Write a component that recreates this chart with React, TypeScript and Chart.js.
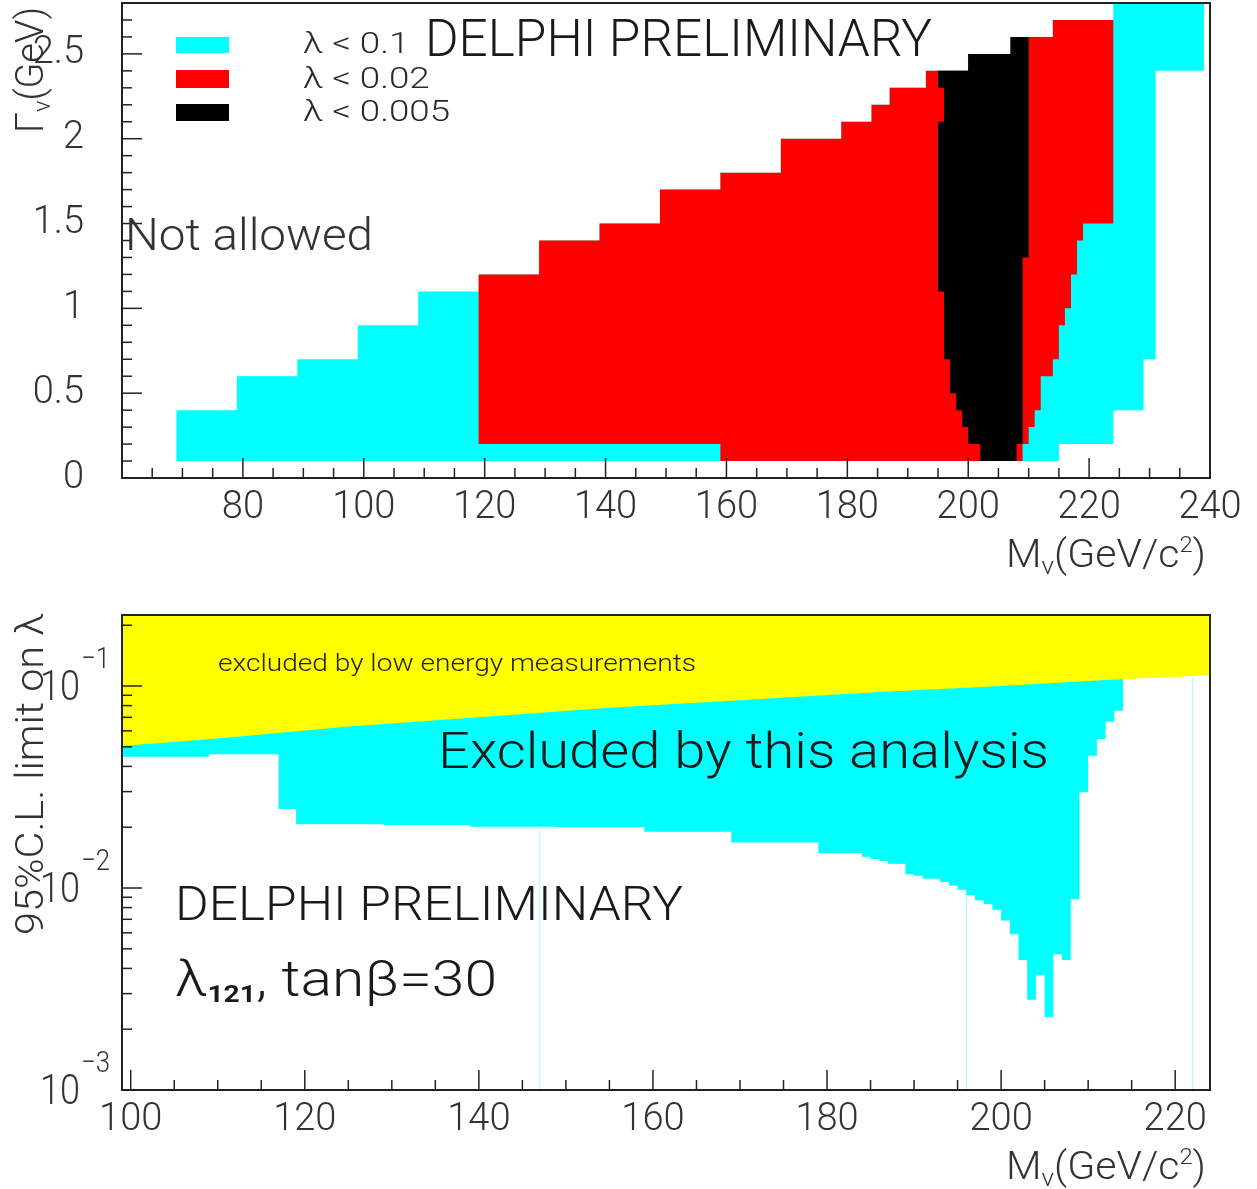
import React, { useEffect, useRef } from "react";
import { Chart, registerables } from "chart.js";

Chart.register(...registerables);

// ---------------- top chart: width vs mass, rows of 0.1 GeV ----------------
const ROW_BOTTOMS = [0.1, 0.2, 0.3, 0.4, 0.5, 0.6, 0.7, 0.8, 0.9, 1.0, 1.1, 1.2, 1.3, 1.4, 1.5, 1.6, 1.7, 1.8, 1.9, 2.0, 2.1, 2.2, 2.3, 2.4, 2.5, 2.6, 2.7];
const ROW_HEIGHT = 0.1;

const CYAN_LEFT = [69, 69, 69, 79, 79, 89, 99, 99, 109, 109, 119, 129, 129, 139, 149, 149, 159, 169, 169, 179, 184, 187, 193, 200, 207, 214, 224];
const CYAN_RIGHT = [215, 224, 224, 229, 229, 229, 231, 231, 231, 231, 231, 231, 231, 231, 231, 231, 231, 231, 231, 231, 231, 231, 231, 239, 239, 239, 239];

const RED_LEFT = [159, 119, 119, 119, 119, 119, 119, 119, 119, 119, 119, 129, 129, 139, 149, 149, 159, 169, 169, 179, 184, 187, 193, 200, 207, 214, null];
const RED_RIGHT = [209, 210, 211, 212, 212, 214, 215, 215, 216, 217, 217, 218, 218, 219, 224, 224, 224, 224, 224, 224, 224, 224, 224, 224, 224, 224, null];

const BLACK_LEFT = [202, 200, 199, 198, 197, 197, 196, 196, 196, 196, 195, 195, 195, 195, 195, 195, 195, 195, 195, 195, 196, 196, 195, 200, 207, null, null];
const BLACK_RIGHT = [208, 209, 209, 209, 209, 209, 209, 209, 209, 209, 209, 209, 210, 210, 210, 210, 210, 210, 210, 210, 210, 210, 210, 210, 210, null, null];

const LEGEND_LABELS = ["λ < 0.1", "λ < 0.02", "λ < 0.005"];
const TOP_X_TICKS = [80, 100, 120, 140, 160, 180, 200, 220, 240];
const TOP_Y_TICKS = [0, 0.5, 1, 1.5, 2, 2.5];

// ---------------- bottom chart: 95% CL limit on lambda ----------------
const LIMIT_EDGES = [99, 109, 117, 119, 129, 139, 149, 159, 169, 179, 184, 185, 186, 187, 189, 190, 191, 192, 193, 194, 195, 196, 197, 198, 199, 200, 201, 202, 203, 204, 205, 206, 207, 208, 209, 210, 211, 212, 213, 214];
const LIMIT_VALUES = [0.0447, 0.0459, 0.0246, 0.0207, 0.0205, 0.0201, 0.0200, 0.0190, 0.0168, 0.0149, 0.0143, 0.0139, 0.0136, 0.0132, 0.0117, 0.0115, 0.0111, 0.0111, 0.0107, 0.0103, 0.0098, 0.0092, 0.0087, 0.0083, 0.0078, 0.0069, 0.0059, 0.0044, 0.0028, 0.0037, 0.0023, 0.0047, 0.0044, 0.0088, 0.0298, 0.0452, 0.0547, 0.0666, 0.0755];

const LOWE_MASS = [99, 110, 125, 140, 155, 170, 185, 200, 212, 224];
const LOWE_LIMIT = [0.0505, 0.055, 0.063, 0.070, 0.078, 0.085, 0.093, 0.100, 0.107, 0.113];

const SPIKE_MASS = [147, 196, 222];
const SPIKE_TOP = [0.0201, 0.0095, 0.111];

const BOT_X_TICKS = [100, 120, 140, 160, 180, 200, 220];
const BOT_Y_EXPONENTS = [-1, -2, -3];

// ---------------- styling ----------------
const FONT = "Roboto, 'Liberation Sans', Arial, sans-serif";
const INK = "#1a1a1a";
const AXIS_INK = "#222";
const CYAN = "#00ffff";
const RED = "#ff0000";
const BLACK = "#000000";
const YELLOW = "#ffff00";

const W = 1257;
const TOP_H = 590;
const BOT_TOP = 590;
const BOT_H = 599;

type Part = { t: string; size: number; dy?: number; weight?: string };

function drawRich(
  ctx: CanvasRenderingContext2D,
  parts: Part[],
  x: number,
  y: number,
  o: { align?: "left" | "right" | "center"; rotate?: number; width?: number; color?: string } = {}
) {
  ctx.save();
  ctx.textBaseline = "alphabetic";
  ctx.textAlign = "left";
  const widths = parts.map((p) => {
    ctx.font = `${p.weight ?? "300"} ${p.size}px ${FONT}`;
    return ctx.measureText(p.t).width;
  });
  const total = widths.reduce((s, w) => s + w, 0);
  const sx = o.width ? o.width / total : 1;
  ctx.translate(x, y);
  if (o.rotate) ctx.rotate(o.rotate);
  ctx.scale(sx, 1);
  let cur = o.align === "right" ? -total : o.align === "center" ? -total / 2 : 0;
  ctx.fillStyle = o.color ?? INK;
  parts.forEach((p, i) => {
    ctx.font = `${p.weight ?? "300"} ${p.size}px ${FONT}`;
    ctx.fillText(p.t, cur, p.dy ?? 0);
    cur += widths[i];
  });
  ctx.restore();
}

function seg(ctx: CanvasRenderingContext2D, x1: number, y1: number, x2: number, y2: number) {
  ctx.beginPath();
  ctx.moveTo(x1, y1);
  ctx.lineTo(x2, y2);
  ctx.stroke();
}

function rowPolygon(left: (number | null)[], right: (number | null)[]) {
  const idx = ROW_BOTTOMS.map((_, i) => i).filter((i) => left[i] != null && right[i] != null);
  const pts: { x: number; y: number }[] = [];
  for (const i of idx) {
    const y0 = ROW_BOTTOMS[i];
    pts.push({ x: left[i] as number, y: y0 }, { x: left[i] as number, y: y0 + ROW_HEIGHT });
  }
  for (const i of [...idx].reverse()) {
    const y0 = ROW_BOTTOMS[i];
    pts.push({ x: right[i] as number, y: y0 + ROW_HEIGHT }, { x: right[i] as number, y: y0 });
  }
  return pts;
}

const massTitle: Part[] = [
  { t: "M", size: 38 },
  { t: "ν", size: 24, dy: 7 },
  { t: "(GeV/c", size: 38 },
  { t: "2", size: 22, dy: -15 },
  { t: ")", size: 38 },
];

const tickFont = { family: FONT, size: 38, weight: "300" as any };

const fitY = (s: any) => {
  s.width = 122;
  s.paddingTop = 0;
  s.paddingBottom = 0;
};

const topDecor = {
  id: "topDecor",
  afterDatasetsDraw(chart: any) {
    const { ctx, chartArea: a, scales } = chart;
    const x = scales.x;
    const y = scales.y;
    ctx.save();
    ctx.strokeStyle = AXIS_INK;
    ctx.lineWidth = 1.5;
    for (let v = 60; v <= 240; v += 5) {
      const px = x.getPixelForValue(v);
      seg(ctx, px, a.bottom, px, a.bottom - (v % 20 === 0 ? 20 : 10));
    }
    for (let k = 0; k <= 28; k++) {
      const py = y.getPixelForValue(k / 10);
      seg(ctx, a.left, py, a.left + (k % 5 === 0 ? 20 : 10), py);
    }
    ctx.lineWidth = 2;
    ctx.strokeRect(a.left, a.top, a.right - a.left, a.bottom - a.top);

    // legend (colours taken from the datasets)
    const colors = LEGEND_LABELS.map((lab) => {
      const ds = chart.data.datasets.find((d: any) => d.label === lab);
      return ds ? ds.backgroundColor : "#000";
    });
    const boxY = [37, 70, 104];
    const boxH = [16, 18, 17];
    const baseY = [53, 87.5, 120.5];
    ctx.font = `300 30px ${FONT}`;
    const refW = ctx.measureText(LEGEND_LABELS[1]).width;
    const sx = 126.7 / refW;
    LEGEND_LABELS.forEach((lab, i) => {
      ctx.fillStyle = colors[i];
      ctx.fillRect(176, boxY[i], 53, boxH[i]);
      ctx.font = `300 30px ${FONT}`;
      const w = ctx.measureText(lab).width * sx;
      drawRich(ctx, [{ t: lab, size: 30 }], 303, baseY[i], { width: w, color: "#2a2a2a" });
    });

    drawRich(ctx, [{ t: "DELPHI PRELIMINARY", size: 52, weight: "300" }], 425, 56, { width: 507 });
    drawRich(ctx, [{ t: "Not allowed", size: 45 }], 125, 250, { width: 248, color: "#333" });

    drawRich(
      ctx,
      [
        { t: "Γ", size: 38 },
        { t: "ν", size: 24, dy: 7 },
        { t: "(GeV)", size: 38 },
      ],
      43,
      133,
      { rotate: -Math.PI / 2, width: 126, color: "#333" }
    );
    drawRich(ctx, massTitle, 1206, 567, { align: "right", width: 200, color: "#333" });
    ctx.restore();
  },
};

const botDecor = {
  id: "botDecor",
  afterDatasetsDraw(chart: any) {
    const { ctx, chartArea: a, scales } = chart;
    const x = scales.x;
    const y = scales.y;
    ctx.save();
    ctx.strokeStyle = AXIS_INK;
    ctx.lineWidth = 1.5;
    for (let v = 100; v <= 220; v += 5) {
      const px = x.getPixelForValue(v);
      seg(ctx, px, a.bottom, px, a.bottom - (v % 20 === 0 ? 20 : 10));
    }
    for (let n = -3; n <= -1; n++) {
      for (let k = 1; k <= 9; k++) {
        const v = k * Math.pow(10, n);
        if (v > y.max) continue;
        const py = y.getPixelForValue(v);
        seg(ctx, a.left, py, a.left + (k === 1 ? 20 : 10), py);
      }
    }
    ctx.lineWidth = 2;
    ctx.strokeRect(a.left, a.top, a.right - a.left, a.bottom - a.top);

    BOT_Y_EXPONENTS.forEach((e) => {
      const py = y.getPixelForValue(Math.pow(10, e));
      drawRich(ctx, [{ t: "10", size: 42 }], 80, py + 14, { align: "right", width: 40, color: "#333" });
      drawRich(ctx, [{ t: "−" + Math.abs(e), size: 30 }], 81, py - 18, { width: 29, color: "#333" });
    });

    drawRich(ctx, [{ t: "excluded by low energy measurements", size: 23 }], 218, 671 - BOT_TOP, { width: 478, color: "#222" });
    drawRich(ctx, [{ t: "Excluded by this analysis", size: 50, weight: "300" }], 438, 768 - BOT_TOP, { width: 611 });
    drawRich(ctx, [{ t: "DELPHI PRELIMINARY", size: 49, weight: "300" }], 175, 920 - BOT_TOP, { width: 508 });
    drawRich(
      ctx,
      [
        { t: "λ", size: 50, weight: "300" },
        { t: "121", size: 24, weight: "700", dy: 6 },
        { t: ", tanβ=30", size: 50, weight: "300" },
      ],
      175,
      996 - BOT_TOP,
      { width: 322 }
    );
    drawRich(ctx, [{ t: "95%C.L. limit on λ", size: 38 }], 43, 935 - BOT_TOP, {
      rotate: -Math.PI / 2,
      width: 322,
      color: "#333",
    });
    drawRich(ctx, massTitle, 1206, 1179 - BOT_TOP, { align: "right", width: 200, color: "#333" });
    ctx.restore();
  },
};

function topConfig(): any {
  const region = (label: string, color: string, left: (number | null)[], right: (number | null)[]) => ({
    type: "line",
    label,
    data: rowPolygon(left, right),
    fill: "shape",
    backgroundColor: color,
    borderColor: color,
    borderWidth: 0,
    pointRadius: 0,
    tension: 0,
  });
  return {
    type: "line",
    data: {
      datasets: [
        region(LEGEND_LABELS[2], BLACK, BLACK_LEFT, BLACK_RIGHT),
        region(LEGEND_LABELS[1], RED, RED_LEFT, RED_RIGHT),
        region(LEGEND_LABELS[0], CYAN, CYAN_LEFT, CYAN_RIGHT),
      ],
    },
    options: {
      animation: false,
      responsive: false,
      devicePixelRatio: 1,
      layout: { padding: { top: 3, right: 47, left: 0, bottom: 0 } },
      plugins: { legend: { display: false }, tooltip: { enabled: false } },
      scales: {
        x: {
          type: "linear",
          min: 60,
          max: 240,
          afterBuildTicks: (s: any) => {
            s.ticks = TOP_X_TICKS.map((v) => ({ value: v }));
          },
          afterFit: (s: any) => {
            s.height = TOP_H - 478;
            s.paddingLeft = 0;
            s.paddingRight = 0;
          },
          grid: { display: false },
          border: { display: false },
          ticks: { font: tickFont, color: "#333", padding: 0, maxRotation: 0, autoSkip: false, callback: (v: any) => String(v) },
        },
        y: {
          type: "linear",
          min: 0,
          max: 2.8,
          afterBuildTicks: (s: any) => {
            s.ticks = TOP_Y_TICKS.map((v) => ({ value: v }));
          },
          afterFit: fitY,
          grid: { display: false },
          border: { display: false },
          ticks: { font: tickFont, color: "#333", padding: 30, autoSkip: false, callback: (v: any) => String(v) },
        },
      },
    },
    plugins: [topDecor],
  };
}

function botConfig(): any {
  const cyanPts: { x: number; y: number }[] = [];
  LIMIT_VALUES.forEach((v, i) => {
    cyanPts.push({ x: LIMIT_EDGES[i], y: v }, { x: LIMIT_EDGES[i + 1], y: v });
  });
  const yellowPts = LOWE_MASS.map((m, i) => ({ x: m, y: LOWE_LIMIT[i] }));
  const spikes = SPIKE_MASS.map((m, i) => ({
    type: "line",
    label: "spike " + m,
    data: [
      { x: m, y: 0.001 },
      { x: m, y: SPIKE_TOP[i] },
    ],
    fill: false,
    borderColor: "rgba(0,255,255,0.35)",
    borderWidth: 1,
    pointRadius: 0,
  }));
  return {
    type: "line",
    data: {
      datasets: [
        {
          label: "excluded by low energy measurements",
          data: yellowPts,
          fill: "end",
          backgroundColor: YELLOW,
          borderWidth: 0,
          pointRadius: 0,
          tension: 0,
        },
        {
          label: "Excluded by this analysis",
          data: cyanPts,
          fill: "end",
          backgroundColor: CYAN,
          borderWidth: 0,
          pointRadius: 0,
          tension: 0,
        },
        ...spikes,
      ],
    },
    options: {
      animation: false,
      responsive: false,
      devicePixelRatio: 1,
      layout: { padding: { top: 615 - BOT_TOP, right: 47, left: 0, bottom: 0 } },
      plugins: { legend: { display: false }, tooltip: { enabled: false } },
      scales: {
        x: {
          type: "linear",
          min: 99,
          max: 224,
          afterBuildTicks: (s: any) => {
            s.ticks = BOT_X_TICKS.map((v) => ({ value: v }));
          },
          afterFit: (s: any) => {
            s.height = BOT_TOP + BOT_H - 1090;
            s.paddingLeft = 0;
            s.paddingRight = 0;
          },
          grid: { display: false },
          border: { display: false },
          ticks: { font: tickFont, color: "#333", padding: 0, maxRotation: 0, autoSkip: false, callback: (v: any) => String(v) },
        },
        y: {
          type: "logarithmic",
          min: 0.001,
          max: 0.2247,
          afterFit: fitY,
          grid: { display: false },
          border: { display: false },
          ticks: { display: false },
        },
      },
    },
    plugins: [botDecor],
  };
}

function ChartCanvas({ make, top, height }: { make: () => any; top: number; height: number }) {
  const ref = useRef<HTMLCanvasElement>(null);
  useEffect(() => {
    const chart = new Chart(ref.current as HTMLCanvasElement, make());
    return () => chart.destroy();
  }, []);
  return (
    <canvas
      ref={ref}
      width={W}
      height={height}
      style={{ position: "absolute", left: 0, top, width: W, height, display: "block" }}
    />
  );
}

export default function App() {
  return (
    <div style={{ position: "absolute", left: 0, top: 0, width: W, height: BOT_TOP + BOT_H, background: "#fff", overflow: "hidden" }}>
      <ChartCanvas make={topConfig} top={0} height={TOP_H} />
      <ChartCanvas make={botConfig} top={BOT_TOP} height={BOT_H} />
    </div>
  );
}
